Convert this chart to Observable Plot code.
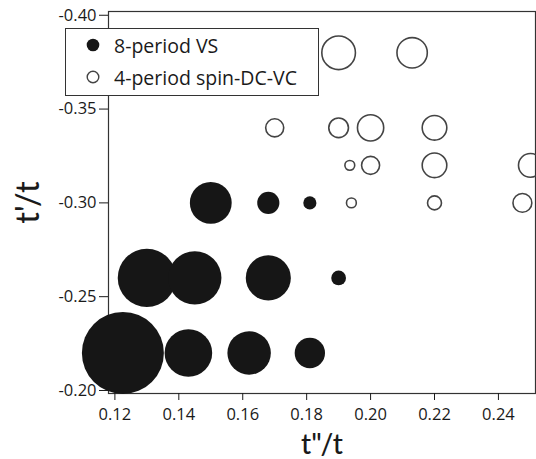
<!DOCTYPE html>
<html><head><meta charset="utf-8">
<script src="https://cdn.jsdelivr.net/npm/d3@7"></script>
<script src="https://cdn.jsdelivr.net/npm/@observablehq/plot@0.6"></script>
<style>
body{margin:0;background:#fff;}
#wrap{position:relative;width:536px;height:459px;font-family:"Open Sans",sans-serif;}
#legend{position:absolute;left:65px;top:28px;width:252px;height:66px;border:1.2px solid #333;background:#fff;}
.row{position:absolute;left:0;height:32px;display:flex;align-items:center;font-size:19.5px;color:#1a1a1a;}
.row svg{margin-left:20px;margin-right:14px;}
</style></head><body>
<div id="wrap"></div>
<script>
// 8-period VS (filled)
const vsX   = [0.150, 0.168, 0.181, 0.130, 0.145, 0.168, 0.190, 0.1225, 0.143, 0.162, 0.181];
const vsY   = [-0.30, -0.30, -0.30, -0.26, -0.26, -0.26, -0.26, -0.22, -0.22, -0.22, -0.22];
const vsAmp = [0.51, 0.27, 0.16, 0.71, 0.65, 0.55, 0.18, 1.00, 0.58, 0.53, 0.37];
// 4-period spin-DC-VC (open)
const dcX   = [0.190, 0.213, 0.170, 0.190, 0.200, 0.220, 0.1935, 0.200, 0.220, 0.250, 0.194, 0.220, 0.2475];
const dcY   = [-0.38, -0.38, -0.34, -0.34, -0.34, -0.34, -0.32, -0.32, -0.32, -0.32, -0.30, -0.30, -0.30];
const dcAmp = [0.41, 0.37, 0.22, 0.24, 0.32, 0.30, 0.12, 0.22, 0.30, 0.29, 0.12, 0.17, 0.23];
const xTicks = [0.12, 0.14, 0.16, 0.18, 0.20, 0.22, 0.24];
const yTicks = [-0.40, -0.35, -0.30, -0.25, -0.20];
const seriesNames = ["8-period VS", "4-period spin-DC-VC"];

const vs = vsX.map((x, i) => ({x, y: vsY[i], a: vsAmp[i]}));
const dc = dcX.map((x, i) => ({x, y: dcY[i], a: dcAmp[i]}));

const chart = Plot.plot({
  width: 536, height: 459,
  marginLeft: 108, marginRight: 1, marginTop: 11, marginBottom: 66,
  style: {fontFamily: "'Open Sans', sans-serif", fontSize: "16.5px", color: "#1a1a1a", background: "#fff"},
  x: {domain: [0.118, 0.2516]},
  y: {domain: [-0.1984, -0.402]},
  r: {type: "linear", domain: [0, 1], range: [0, 41]},
  marks: [
    Plot.frame({stroke: "#333", strokeWidth: 1.2}),
    Plot.dot(vs, {x: "x", y: "y", r: "a", fill: "#161616", stroke: "none"}),
    Plot.dot(dc, {x: "x", y: "y", r: "a", fill: "none", stroke: "#444", strokeWidth: 1.6}),
    Plot.axisX({ticks: xTicks, tickFormat: d => d.toFixed(2), tickSize: 7, tickPadding: 8,
      label: "t\"/t", labelAnchor: "center", labelArrow: "none", labelOffset: 60, fontSize: 16.5}),
    Plot.axisY({ticks: yTicks, tickFormat: d => d.toFixed(2), tickSize: 9, tickPadding: 3,
      label: "t'/t", labelAnchor: "center", labelArrow: "none", labelOffset: 92, fontSize: 16.5})
  ]
});
// enlarge axis labels
chart.querySelectorAll("g[aria-label='x-axis label'] text").forEach(t => {
  t.setAttribute("font-size", "28px");
  t.setAttribute("font-family", "Lato, sans-serif");
  t.setAttribute("font-weight", "500");
});
chart.querySelectorAll("g[aria-label='y-axis label'] text").forEach(t => {
  t.setAttribute("font-size", "32px");
  t.setAttribute("font-family", "Lato, sans-serif");
  t.setAttribute("font-weight", "500");
});
document.getElementById("wrap").appendChild(chart);

const legend = document.createElement("div");
legend.id = "legend";
seriesNames.forEach((name, i) => {
  const row = document.createElement("div");
  row.className = "row";
  row.style.top = (i * 32) + "px";
  row.innerHTML = `<svg width="14" height="14"><circle cx="7" cy="7" r="${i === 0 ? 6.3 : 5.8}" fill="${i === 0 ? '#161616' : 'none'}" stroke="${i === 0 ? 'none' : '#444'}" stroke-width="1.4"/></svg><span>${name}</span>`;
  legend.appendChild(row);
});
document.getElementById("wrap").appendChild(legend);
</script>
</body></html>
